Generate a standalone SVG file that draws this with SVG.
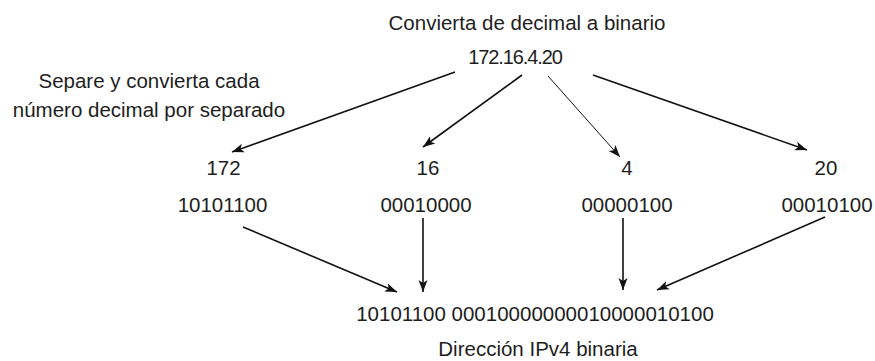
<svg xmlns="http://www.w3.org/2000/svg" width="875" height="361" viewBox="0 0 875 361">
  <style>
    text { font-family: "Liberation Sans", Arial, Helvetica, sans-serif; font-size: 20.5px; fill: #1e1e1e; text-anchor: middle; }
    .ip { font-size: 20px; letter-spacing: -1.1px; }
    .c { stroke: #111; stroke-width: 1.6; fill: none; marker-end: url(#ah); }
    .thin { stroke-width: 1; }
  </style>
  <defs>
    <marker id="ah" markerUnits="userSpaceOnUse" markerWidth="14" markerHeight="12" viewBox="0 0 14 12" refX="12" refY="6" orient="auto">
      <path d="M0,1.5 L12,6 L0,10.5 L3,6 Z" fill="#111"/>
    </marker>
  </defs>
  <rect width="875" height="361" fill="#ffffff"/>

  <g id="title"><text x="527" y="30">Convierta de decimal a binario</text></g>
  <g id="ip-decimal"><text class="ip" x="515" y="64">172.16.4.20</text></g>
  <g id="note">
    <text x="149" y="88">Separe y convierta cada</text>
    <text x="149" y="117">número decimal por separado</text>
  </g>

  <g id="n172"><text x="223.5" y="175">172</text></g>
  <g id="n16"><text x="428" y="175">16</text></g>
  <g id="n4"><text x="627" y="175">4</text></g>
  <g id="n20"><text x="826" y="175">20</text></g>

  <g id="b172"><text x="222.5" y="212">10101100</text></g>
  <g id="b16"><text x="426" y="212">00010000</text></g>
  <g id="b4"><text x="627" y="212">00000100</text></g>
  <g id="b20"><text x="827" y="212">00010100</text></g>

  <g id="ip-binary"><text x="535" y="321">10101100 00010000000010000010100</text></g>
  <g id="label-binary"><text x="538" y="356">Dirección IPv4 binaria</text></g>

  <g id="connectors">
    <line class="c" x1="455" y1="72" x2="232" y2="152"/>
    <line class="c" x1="522" y1="75" x2="423" y2="147"/>
    <line class="c thin" x1="548" y1="76" x2="620" y2="157"/>
    <line class="c" x1="593" y1="75" x2="807" y2="150"/>
    <line class="c" x1="243" y1="227" x2="397" y2="292"/>
    <line class="c" x1="423" y1="218" x2="423" y2="292"/>
    <line class="c" x1="623" y1="218" x2="623" y2="290"/>
    <line class="c" x1="825" y1="217" x2="657" y2="290"/>
  </g>
</svg>
